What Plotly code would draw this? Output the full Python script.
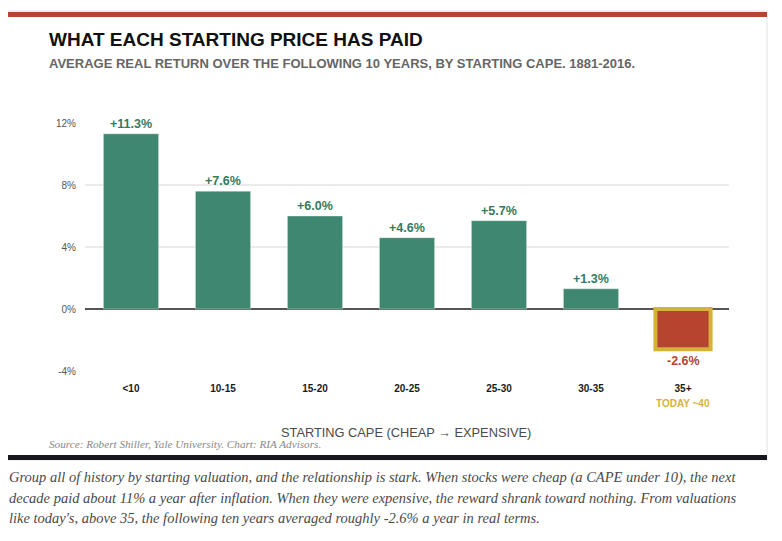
import plotly.graph_objects as go

# --- data ---
cape_buckets = ["<10", "10-15", "15-20", "20-25", "25-30", "30-35", "35+"]
real_return = [11.3, 7.6, 6.0, 4.6, 5.7, 1.3, -2.6]
y_ticks = [-4, 0, 4, 8, 12]
y_tick_text = ["-4%", "0%", "4%", "8%", "12%"]

title = "WHAT EACH STARTING PRICE HAS PAID"
subtitle = "AVERAGE REAL RETURN OVER THE FOLLOWING 10 YEARS, BY STARTING CAPE. 1881-2016."
x_title = "STARTING CAPE (CHEAP \u2192 EXPENSIVE)"
today_note = "TODAY ~40"
source = "Source: Robert Shiller, Yale University. Chart: RIA Advisors."
caption_lines = [
    "Group all of history by starting valuation, and the relationship is stark. When stocks were cheap (a CAPE under 10), the next",
    "decade paid about 11% a year after inflation. When they were expensive, the reward shrank toward nothing. From valuations",
    "like today's, above 35, the following ten years averaged roughly -2.6% a year in real terms.",
]

GREEN = "#3f8770"
GREEN_TXT = "#357a62"
RED = "#b5452f"
GOLD = "#d8b13a"

# the page puts the figure 8px in from the top-left corner
OFF = 8
W, H = 782 - 2 * OFF, 541 - 2 * OFF
L, R, T, B = 85 - OFF, 729 - OFF, 123 - OFF, 371 - OFF  # plot area in figure pixels


def px(x):
    # x in screenshot pixels -> paper fraction
    return (x - OFF - L) / (R - L)


def py(y):
    return (B - (y - OFF)) / (B - T)


neg = [v < 0 for v in real_return]
bar_colors = [RED if n else GREEN for n in neg]
line_colors = [GOLD if n else "rgba(255,255,255,0.35)" for n in neg]
line_widths = [4 if n else 1 for n in neg]

fig = go.Figure()
fig.add_trace(go.Bar(
    x=cape_buckets,
    y=real_return,
    marker=dict(color=bar_colors, line=dict(color=line_colors, width=line_widths)),
    hoverinfo="skip",
    cliponaxis=False,
))

font_sans = "Liberation Sans, Arial, sans-serif"
font_serif = "Liberation Serif, Georgia, serif"

annotations = []
# value labels
for cat, v in zip(cape_buckets, real_return):
    annotations.append(dict(
        x=cat, y=v, xref="x", yref="y",
        text=f"<b>{v:+.1f}%</b>",
        showarrow=False,
        yanchor="top" if v < 0 else "bottom",
        yshift=-3 if v < 0 else 1,
        font=dict(family=font_sans, size=12.5,
                  color=RED if v < 0 else GREEN_TXT),
    ))

annotations += [
    dict(x=px(47), y=py(39.5), xref="paper", yref="paper", text=f"<b>{title}</b>",
         showarrow=False, xanchor="left", yanchor="middle",
         font=dict(family=font_sans, size=19, color="#111")),
    dict(x=px(47), y=py(63.5), xref="paper", yref="paper", text=f"<b>{subtitle}</b>",
         showarrow=False, xanchor="left", yanchor="middle",
         font=dict(family=font_sans, size=13, color="#666")),
    dict(x=px(406), y=py(432), xref="paper", yref="paper", text=x_title,
         showarrow=False, xanchor="center", yanchor="middle",
         font=dict(family=font_sans, size=12.8, color="#4a4a4a")),
    dict(x=cape_buckets[-1], y=py(403), xref="x", yref="paper", text=f"<b>{today_note}</b>",
         showarrow=False, xanchor="center", yanchor="middle",
         font=dict(family=font_sans, size=10, color=GOLD)),
    dict(x=px(47), y=py(444), xref="paper", yref="paper", text=f"<i>{source}</i>",
         showarrow=False, xanchor="left", yanchor="middle",
         font=dict(family=font_serif, size=11.2, color="#888")),
]
for i, line in enumerate(caption_lines):
    annotations.append(dict(
        x=px(7), y=py(477 + i * 20.5), xref="paper", yref="paper", text=f"<i>{line}</i>",
        showarrow=False, xanchor="left", yanchor="middle",
        font=dict(family=font_serif, size=14.5, color="#4a4a4a"),
    ))

shapes = [
    # card outline
    dict(type="rect", xref="paper", yref="paper", x0=px(7), x1=px(767), y0=py(11), y1=py(460),
         line=dict(color="#e2e2e2", width=1), fillcolor="rgba(0,0,0,0)", layer="below"),
    # top accent bar
    dict(type="rect", xref="paper", yref="paper", x0=px(7), x1=px(767), y0=py(12), y1=py(17),
         line=dict(width=0), fillcolor=RED),
    # bottom dark bar
    dict(type="rect", xref="paper", yref="paper", x0=px(7), x1=px(767), y0=py(455), y1=py(460),
         line=dict(width=0), fillcolor="#16181d"),
]

fig.update_layout(
    width=W, height=H,
    margin=dict(l=L, r=W - R, t=T, b=H - B, pad=0),
    paper_bgcolor="white", plot_bgcolor="white",
    showlegend=False,
    bargap=0.4,
    annotations=annotations,
    shapes=shapes,
    xaxis=dict(
        type="category", showgrid=False, zeroline=False, showline=False,
        ticks="", ticklabelstandoff=10,
        tickvals=cape_buckets, ticktext=[f"<b>{c}</b>".replace("<b><", "<b>&lt;") for c in cape_buckets],
        tickfont=dict(family=font_sans, size=10, color="#1a1a1a"),
        fixedrange=True,
    ),
    yaxis=dict(
        range=[-4, 12], tickvals=y_ticks, ticktext=y_tick_text,
        showgrid=True, gridcolor="#ebebeb", gridwidth=1.5,
        zeroline=True, zerolinecolor="#555", zerolinewidth=2,
        showline=False, ticks="", ticklabelstandoff=8,
        tickfont=dict(family=font_sans, size=10, color="#555"),
        fixedrange=True,
    ),
)

fig.write_html("out.html", config={"displayModeBar": False})
